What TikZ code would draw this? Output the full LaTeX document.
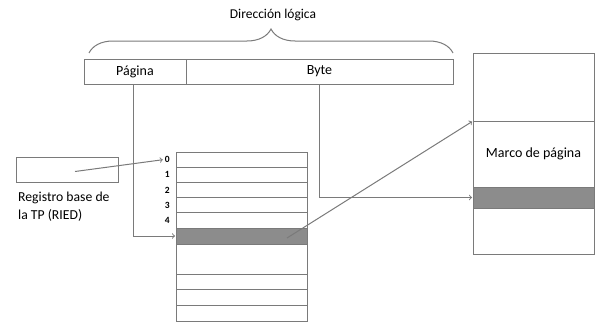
\documentclass[tikz,border=0pt]{standalone}
\usepackage{fontspec}
\setmainfont{Carlito}
\usetikzlibrary{arrows,positioning,decorations.pathreplacing}
\definecolor{linea}{HTML}{7A7A7A}
\definecolor{relleno}{HTML}{8C8C8C}
\tikzset{
    %Define standard arrow tip
    >=to,
    %Define style for boxes
    caja/.style={
           rectangle,
           draw=linea, line width=1pt,
           anchor=north west,
           inner sep=0pt, outer sep=0pt,
           font=\fontsize{14}{16}\selectfont},
    % Define style for table rows
    fila/.style={
           caja,
           minimum width=131pt,
           minimum height=15.2pt},
    % Define style for row numbers
    numero/.style={
           font=\bfseries\fontsize{9.5}{11}\selectfont,
           inner sep=1pt},
    % Define arrow style
    flecha/.style={
           ->,
           draw=linea,
           line width=1pt,
           shorten >=1pt}
}
\begin{document}
\begin{tikzpicture}[x=1pt,y=-1pt]
\useasboundingbox (0,0) rectangle (595,324);

% direccion logica
\node[caja, minimum width=102pt, minimum height=25pt] (pag) at (84,59) {Página};
\node[caja, minimum width=267pt, minimum height=25pt] (byte) at (pag.north east) {Byte};
\draw[draw=linea, line width=1pt, decorate, decoration={brace, amplitude=24pt}]
  ([xshift=5pt,yshift=6pt]pag.north west) -- ([yshift=6pt]byte.north east);
\node[font=\fontsize{13.5}{15}\selectfont] (titulo) at (273,15) {Dirección lógica};

% registro base
\node[caja, minimum width=102pt, minimum height=25pt] (reg) at (16,157) {};
\node[anchor=north west, align=left, inner sep=0pt,
      font=\fontsize{13.7}{18}\selectfont] (regtxt) at (18,192) {Registro base de\\la TP (RIED)};

% tabla de paginas
\foreach \i in {0,...,4}
  \node[fila, label={[numero, name=n\i, label distance=5pt]left:\i}] (f\i) at (176,{152+15.2*\i}) {};
\node[fila, fill=relleno, minimum height=16pt] (f5) at (176,228) {};
\node[fila, minimum height=30pt] (f6) at (176,244) {};
\foreach \i in {7,8,9}
  \node[fila, minimum height=15.67pt] (f\i) at (176,{274+15.67*(\i-7)}) {};

% memoria
\node[caja, minimum width=121pt, minimum height=68pt] (mtop) at (473,53) {};
\node[caja, minimum width=121pt, minimum height=66pt] (mmid) at (mtop.south west) {Marco de página};
\node[caja, fill=relleno, minimum width=121pt, minimum height=21pt] (mgris) at (mmid.south west) {};
\node[caja, minimum width=121pt, minimum height=46pt] (mbot) at (mgris.south west) {};

% conexiones
\draw[flecha] ([xshift=8pt,yshift=-2pt]reg.center) -- (n0.west);
\draw[flecha] ([xshift=-2pt]pag.south) |- (f5.west);
\draw[flecha] (byte.south) |- (mgris.west);
\draw[flecha] ([xshift=-20pt,yshift=-2pt]f5.east) -- (mmid.north west);
\end{tikzpicture}
\end{document}
